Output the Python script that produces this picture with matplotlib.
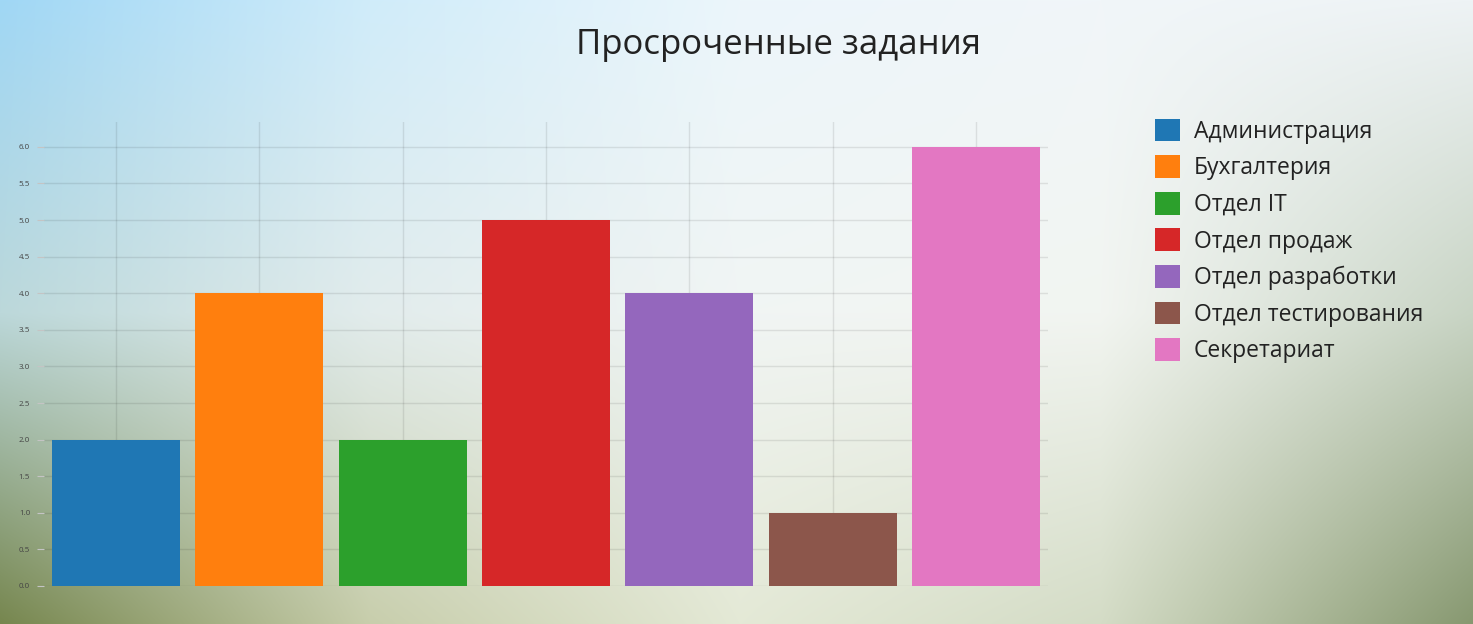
import numpy as np
import matplotlib
matplotlib.use("Agg")
import matplotlib.pyplot as plt

plt.rcParams['font.family'] = ['Open Sans', 'DejaVu Sans']

# data
departments = ['Администрация', 'Бухгалтерия', 'Отдел IT', 'Отдел продаж',
               'Отдел разработки', 'Отдел тестирования', 'Секретариат']
overdue = [2, 4, 2, 5, 4, 1, 6]
colors = ['#1f77b4', '#ff7f0e', '#2ca02c', '#d62728', '#9467bd', '#8c564b', '#e377c2']
yticks = [0.0, 0.5, 1.0, 1.5, 2.0, 2.5, 3.0, 3.5, 4.0, 4.5, 5.0, 5.5, 6.0]

W, H = 1473, 624
fig = plt.figure(figsize=(W / 100, H / 100), dpi=100)

# background gradient (sky -> meadow look)
anchor_x = [0, 370, 740, 1100, 1473]
anchor_y = [0, 312, 624]
anchors = np.array([
    [(160, 215, 245), (208, 236, 250), (236, 246, 251), (241, 246, 249), (238, 243, 245)],
    [(188, 216, 218), (226, 236, 236), (241, 245, 244), (242, 245, 241), (200, 212, 196)],
    [(118, 134, 78), (200, 206, 172), (228, 233, 214), (212, 220, 198), (135, 152, 112)],
], dtype=float) / 255
xs = np.arange(W)
ys = np.arange(H)
rows = np.zeros((len(anchor_y), W, 3))
for i in range(len(anchor_y)):
    for c in range(3):
        rows[i, :, c] = np.interp(xs, anchor_x, anchors[i, :, c])
bg = np.zeros((H, W, 3))
for c in range(3):
    for j in range(W):
        bg[:, j, c] = np.interp(ys, anchor_y, rows[:, j, c])
bg_ax = fig.add_axes([0, 0, 1, 1], zorder=-1)
bg_ax.imshow(bg, aspect='auto', extent=[0, W, H, 0])
bg_ax.axis('off')

ax = fig.add_axes([44 / W, 38 / H, 1004 / W, 464 / H])
ax.set_facecolor('none')
x = np.arange(len(departments))
bars = ax.bar(x, overdue, width=0.893, color=colors, zorder=2, label=departments)

ax.set_xlim(-0.5, len(departments) - 0.5)
ax.set_ylim(0, 6.34)
ax.set_yticks(yticks)
ax.set_yticklabels([f'{v:.1f}' for v in yticks])
ax.set_xticks(x)
ax.set_xticklabels([])
ax.tick_params(axis='x', length=0)
ax.tick_params(axis='y', length=5, width=0.8, color='#c4c4c4', pad=5,
               labelsize=5.8, labelcolor='#444444')
for s in ax.spines.values():
    s.set_visible(False)
ax.grid(True, color='#000000', alpha=0.09, linewidth=1, zorder=0)

fig.text(779 / W, 1 - 45 / H, 'Просроченные задания', ha='center', va='center',
         fontsize=25, color='#222222')

fig.legend(bars, departments, loc='upper left', bbox_to_anchor=(1134 / W, 1 - 98 / H),
           frameon=False, fontsize=16.5, handlelength=1.1, handleheight=1.15,
           handletextpad=0.6, labelspacing=0.5, labelcolor='#222222')

fig.savefig('out.png', dpi=100)
